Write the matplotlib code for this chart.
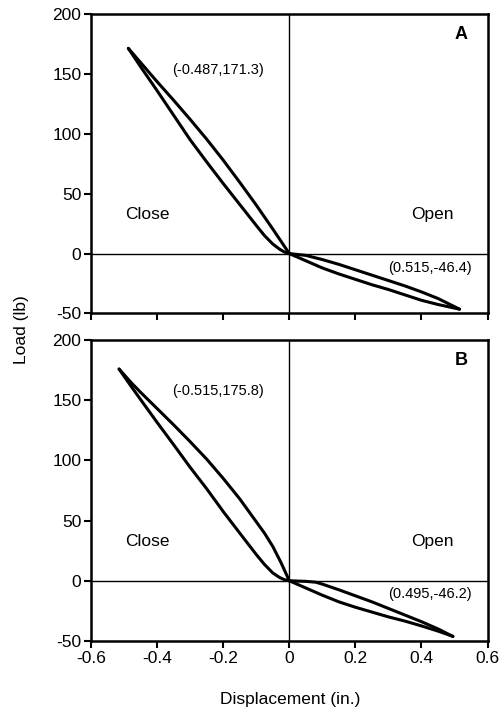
import matplotlib
matplotlib.use("Agg")
import matplotlib.pyplot as plt

plt.rcParams['font.family'] = ['Liberation Sans', 'DejaVu Sans']

# ---- data ----
# Panel A, closing side
a_close_up_x = [-0.487, -0.45, -0.4, -0.35, -0.3, -0.25, -0.2, -0.15, -0.1, -0.05, 0.0]
a_close_up_y = [171.3, 159.5, 143.5, 128, 112, 95.5, 78, 59.5, 40.5, 20.5, 0]
a_close_lo_x = [-0.487, -0.45, -0.4, -0.35, -0.3, -0.25, -0.2, -0.15, -0.1, -0.075, -0.05, -0.03, -0.015, 0.0]
a_close_lo_y = [171.3, 156, 136, 115.5, 95, 76.5, 58.5, 41, 23.5, 15, 8, 3.8, 1.3, 0]
# Panel A, opening side
a_open_up_x = [0.0, 0.05, 0.1, 0.15, 0.2, 0.25, 0.3, 0.35, 0.4, 0.45, 0.515]
a_open_up_y = [0, -1.5, -5, -9, -13.5, -18, -22.5, -27, -32, -37.5, -46.4]
a_open_lo_x = [0.0, 0.05, 0.1, 0.15, 0.2, 0.25, 0.3, 0.35, 0.4, 0.45, 0.515]
a_open_lo_y = [0, -6, -12, -17, -21.5, -26, -30, -34.5, -39, -42.5, -46.4]

# Panel B, closing side
b_close_up_x = [-0.515, -0.48, -0.45, -0.4, -0.35, -0.3, -0.25, -0.2, -0.15, -0.1, -0.075, -0.05, -0.025, 0.0]
b_close_up_y = [175.8, 165, 156.5, 143, 129.5, 115.5, 101, 85, 68, 49, 39.5, 28.5, 15, 0]
b_close_lo_x = [-0.515, -0.48, -0.45, -0.4, -0.35, -0.3, -0.25, -0.2, -0.15, -0.1, -0.075, -0.05, -0.03, -0.015, 0.0]
b_close_lo_y = [175.8, 162, 150.5, 131.5, 113, 94.2, 76.4, 57.5, 39.6, 21.8, 13.5, 6.5, 2.8, 0.9, 0]
# Panel B, opening side
b_open_up_x = [0.0, 0.05, 0.08, 0.1, 0.15, 0.2, 0.25, 0.3, 0.35, 0.4, 0.45, 0.495]
b_open_up_y = [0, -0.5, -1.2, -2.8, -7.5, -12.5, -17.5, -23, -28.5, -34, -40, -46.2]
b_open_lo_x = [0.0, 0.05, 0.1, 0.15, 0.2, 0.25, 0.3, 0.35, 0.4, 0.45, 0.495]
b_open_lo_y = [0, -6, -12, -17.5, -22, -26, -30, -33.5, -37.5, -41.8, -46.2]

x_ticks = [-0.6, -0.4, -0.2, 0, 0.2, 0.4, 0.6]
x_tick_labels = ['-0.6', '-0.4', '-0.2', '0', '0.2', '0.4', '0.6']
y_ticks = [-50, 0, 50, 100, 150, 200]
y_tick_labels = ['-50', '0', '50', '100', '150', '200']

panels = [
    dict(letter='A',
         curves=[(a_close_up_x, a_close_up_y), (a_close_lo_x, a_close_lo_y),
                 (a_open_up_x, a_open_up_y), (a_open_lo_x, a_open_lo_y)],
         peak_label='(-0.487,171.3)', peak_pos=(-0.217, 153),
         valley_label='(0.515,-46.4)', valley_pos=(0.425, -12.3)),
    dict(letter='B',
         curves=[(b_close_up_x, b_close_up_y), (b_close_lo_x, b_close_lo_y),
                 (b_open_up_x, b_open_up_y), (b_open_lo_x, b_open_lo_y)],
         peak_label='(-0.515,175.8)', peak_pos=(-0.215, 157.4),
         valley_label='(0.495,-46.2)', valley_pos=(0.425, -11)),
]

fig = plt.figure(figsize=(5.02, 7.11), dpi=100)
rects = [[0.1813, 0.5591, 0.790, 0.4212],
         [0.1813, 0.0985, 0.790, 0.4234]]

for i, (p, r) in enumerate(zip(panels, rects)):
    ax = fig.add_axes(r)
    ax.set_xlim(-0.6, 0.6)
    ax.set_ylim(-50, 200)
    ax.axhline(0, color='black', lw=1.0, zorder=1)
    ax.axvline(0, color='black', lw=1.0, zorder=1)
    for cx, cy in p['curves']:
        ax.plot(cx, cy, color='black', lw=2.2, solid_capstyle='round',
                solid_joinstyle='round', zorder=3)
    for s in ax.spines.values():
        s.set_linewidth(1.8)
    ax.set_yticks(y_ticks)
    ax.set_yticklabels(y_tick_labels, fontsize=12.5)
    ax.set_xticks(x_ticks)
    if i == 1:
        ax.set_xticklabels(x_tick_labels, fontsize=12.5)
    else:
        ax.set_xticklabels([])
    ax.tick_params(direction='out', length=5, width=1.5, pad=2)
    ax.text(p['peak_pos'][0], p['peak_pos'][1], p['peak_label'], fontsize=10.5,
            ha='center', va='center')
    ax.text(p['valley_pos'][0], p['valley_pos'][1], p['valley_label'], fontsize=10.5,
            ha='center', va='center')
    ax.text(-0.428, 33, 'Close', fontsize=12.5, ha='center', va='center')
    ax.text(0.433, 33, 'Open', fontsize=12.5, ha='center', va='center')
    ax.text(0.52, 183, p['letter'], fontsize=13, fontweight='bold',
            ha='center', va='center')

fig.text(0.578, 0.0155, 'Displacement (in.)', fontsize=12.5, ha='center', va='center')
fig.text(0.042, 0.536, 'Load (lb)', fontsize=12.5, ha='center', va='center', rotation=90)

fig.savefig('out.png', dpi=100)
